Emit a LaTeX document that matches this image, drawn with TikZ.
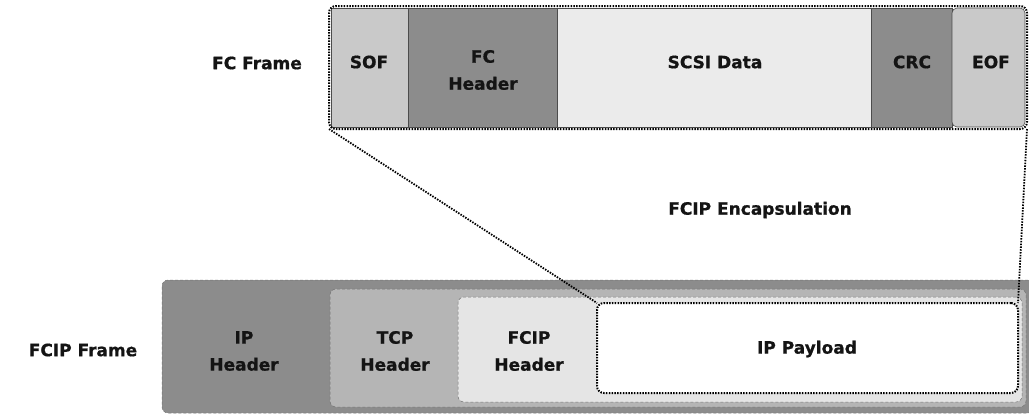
\documentclass[tikz,border=0pt]{standalone}
\usepackage{fontspec}
\setmainfont{DejaVu Sans}[BoldFeatures={FakeBold=0.8}]
\begin{document}
\begin{tikzpicture}[x=1pt,y=-1pt,
  every node/.style={font=\bfseries\fontsize{17}{27}\selectfont, text=black!92, align=center, inner sep=0pt, outer sep=0pt},
  cell/.style={draw=black!70, line width=0.6pt, anchor=north west, minimum height=119pt},
  layer/.style={draw=black!55, densely dashed, line width=0.5pt, rounded corners=6pt, anchor=north west},
  dotframe/.style={draw=black, line width=2pt, dash pattern=on 1.5pt off 1.3pt, rounded corners=7pt, anchor=north west},
  link/.style={draw=black, line width=1.8pt, dash pattern=on 1.5pt off 1.3pt}
]
\useasboundingbox (0,0) rectangle (1029,416);

% ---- Fibre Channel frame ----
\node[cell, fill=black!21, minimum width=77pt]  (sof)  at (331,8) {};
\node[cell, fill=black!45, minimum width=149pt] (fch)  at (408,8) {};
\node[cell, fill=black!8,  minimum width=314pt] (scsi) at (557,8) {};
\node[cell, fill=black!45, minimum width=81pt]  (crc)  at (871,8) {};
\node[cell, fill=black!21, minimum width=73pt, rounded corners=5pt] (eof) at (952,8) {};
\node[dotframe, minimum width=698pt, minimum height=123pt] (fcframe) at (329,6) {};

\node at (369,62) {SOF};
\node at (483,70) {FC\\Header};
\node at (715,62) {SCSI Data};
\node at (912,62) {CRC};
\node at (991,62) {EOF};
\node (fclabel) at (257,63) {FC Frame};

% ---- FCIP frame ----
\node[layer, fill=black!45, minimum width=872pt, minimum height=133pt] (ipfr)  at (162,280) {};
\node[layer, fill=black!29, minimum width=696pt, minimum height=118pt] (tcpfr) at (330,289) {};
\node[layer, fill=black!10, minimum width=564pt, minimum height=105pt] (fcipfr) at (458,297) {};
\node[dotframe, fill=white, minimum width=421pt, minimum height=90pt] (payload) at (597,303) {};

\node at (244,351) {IP\\Header};
\node at (395,351) {TCP\\Header};
\node at (529,351) {FCIP\\Header};
\node at (807,349) {IP Payload};
\node (fciplabel) at (83,350) {FCIP Frame};

% ---- encapsulation ----
\node (encap) at (760,210) {FCIP Encapsulation};
\draw[link] (fcframe.south west) -- (payload.north west);
\draw[link] (fcframe.south east) -- (payload.north east);
\end{tikzpicture}
\end{document}
